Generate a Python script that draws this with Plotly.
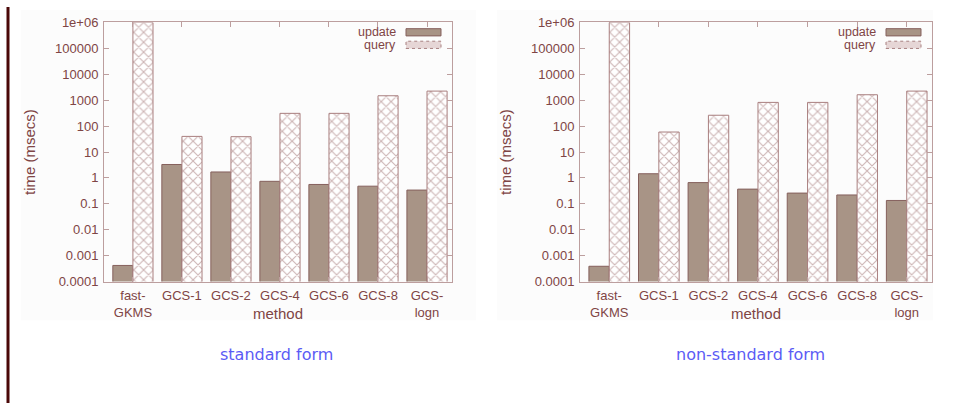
import plotly.graph_objects as go

# Query/update timings (msecs) per method, two transform forms
methods = ["fast-<br>GKMS", "GCS-1", "GCS-2", "GCS-4", "GCS-6", "GCS-8", "GCS-<br>logn"]

std_update = [0.00042, 3.3, 1.7, 0.74, 0.56, 0.48, 0.34]
std_query = [1e6, 40, 39, 310, 310, 1480, 2240]

nonstd_update = [0.00039, 1.45, 0.66, 0.37, 0.26, 0.22, 0.135]
nonstd_query = [1e6, 59, 262, 820, 820, 1620, 2240]

y_ticks = [1e-4, 1e-3, 1e-2, 0.1, 1, 10, 100, 1000, 10000, 100000, 1e6]
y_tick_text = ["0.0001", "0.001", "0.01", "0.1", "1", "10", "100", "1000",
               "10000", "100000", "1e+06"]

captions = ["standard form", "non-standard form"]

W, H = 959, 411
TXT = "#7f4545"
AXC = "#bc9e9e"
UPD_FILL = "#a89486"
UPD_LINE = "#85605c"
HATCH = "#9c6c6c"
FONT = "Liberation Sans, Arial, sans-serif"

# plot-area pixel boxes: (left, right), shared top/bottom
panels = [(104, 452), (580, 932)]
top_px, bot_px = 16, 285


def px_x(p):
    return p / W


def px_y(p):
    return 1 - p / H


fig = go.Figure()

series = [(std_update, std_query), (nonstd_update, nonstd_query)]
for i, (upd, qry) in enumerate(series):
    xa = "x" if i == 0 else "x2"
    ya = "y" if i == 0 else "y2"
    fig.add_trace(go.Bar(
        x=methods, y=upd, name="update", xaxis=xa, yaxis=ya,
        marker=dict(color=UPD_FILL, line=dict(color=UPD_LINE, width=1)),
        showlegend=False,
    ))
    fig.add_trace(go.Bar(
        x=methods, y=qry, name="query", xaxis=xa, yaxis=ya,
        marker=dict(color="white", line=dict(color="#a97f7f", width=1),
                    pattern=dict(shape="x", size=7, solidity=0.3,
                                 fgcolor=HATCH, bgcolor="white")),
        showlegend=False,
    ))

shapes = []
annotations = []

# dark page rule on the left edge
shapes.append(dict(type="rect", xref="paper", yref="paper",
                   x0=px_x(6.5), x1=px_x(9.5), y0=0, y1=1,
                   fillcolor="#4a0808", line=dict(width=0), layer="below"))

for i, (l, r) in enumerate(panels):
    # faint panel background
    shapes.append(dict(type="rect", xref="paper", yref="paper",
                       x0=px_x(l - 83), x1=px_x(r + 1 + (23 if i == 0 else 0)),
                       y0=px_y(325), y1=px_y(3),
                       fillcolor="#fcfcfc", line=dict(width=0), layer="below"))

    # key: text on the left, sample on the right
    for j, (label, ty) in enumerate([("update", 25.5), ("query", 39.5)]):
        annotations.append(dict(
            text=label, xref="paper", yref="paper",
            x=px_x(r - 55), y=px_y(ty), xanchor="right", yanchor="middle",
            borderpad=0,
            showarrow=False, font=dict(family=FONT, size=12.5, color=TXT)))
    shapes.append(dict(type="rect", xref="paper", yref="paper",
                       x0=px_x(r - 46), x1=px_x(r - 11),
                       y0=px_y(30), y1=px_y(22.5),
                       fillcolor=UPD_FILL, line=dict(color=UPD_LINE, width=1)))
    shapes.append(dict(type="rect", xref="paper", yref="paper",
                       x0=px_x(r - 46), x1=px_x(r - 11),
                       y0=px_y(43), y1=px_y(35.5),
                       fillcolor="#e6d6d6",
                       line=dict(color="#a88080", width=1, dash="dot")))

    mid = (l + r) / 2
    # axis titles
    annotations.append(dict(
        text="time (msecs)", xref="paper", yref="paper",
        x=px_x(l - 75), y=px_y((top_px + bot_px) / 2), textangle=-90,
        xanchor="center", yanchor="middle", showarrow=False,
        font=dict(family=FONT, size=15, color=TXT)))
    annotations.append(dict(
        text="method", xref="paper", yref="paper",
        x=px_x(mid), y=px_y(318), xanchor="center", yanchor="middle",
        showarrow=False, font=dict(family=FONT, size=15, color=TXT)))
    # caption below each chart
    annotations.append(dict(
        text=captions[i], xref="paper", yref="paper",
        x=px_x(276 if i == 0 else 750), y=px_y(361),
        xanchor="center", yanchor="middle", showarrow=False,
        font=dict(family="Comic Sans MS, DejaVu Sans, sans-serif",
                  size=16, color="#5b5bf5")))

layout = dict(
    width=W, height=H,
    margin=dict(l=0, r=0, t=0, b=0),
    paper_bgcolor="white", plot_bgcolor="white",
    barmode="group", bargap=0.18, bargroupgap=0.0,
    showlegend=False,
    shapes=shapes, annotations=annotations,
)

for i, (l, r) in enumerate(panels):
    sx = "" if i == 0 else "2"
    layout["xaxis" + sx] = dict(
        domain=[px_x(l), px_x(r)], anchor="y" + sx,
        type="category", categoryorder="array", categoryarray=methods,
        range=[-0.59, 6.51],
        showline=True, linecolor=AXC, linewidth=1, mirror="ticks",
        ticks="inside", ticklen=5, tickcolor=AXC,
        showgrid=False, zeroline=False,
        tickfont=dict(family=FONT, size=13, color=TXT),
        ticklabelstandoff=2,
    )
    layout["yaxis" + sx] = dict(
        domain=[px_y(bot_px), px_y(top_px)], anchor="x" + sx,
        type="log", range=[-4, 6],
        tickvals=y_ticks, ticktext=y_tick_text,
        showline=True, linecolor=AXC, linewidth=1, mirror="ticks",
        ticks="inside", ticklen=5, tickcolor=AXC,
        showgrid=False, zeroline=False,
        tickfont=dict(family=FONT, size=13, color=TXT),
        ticklabelstandoff=2,
    )

fig.update_layout(**layout)
fig.write_html("out.html")
